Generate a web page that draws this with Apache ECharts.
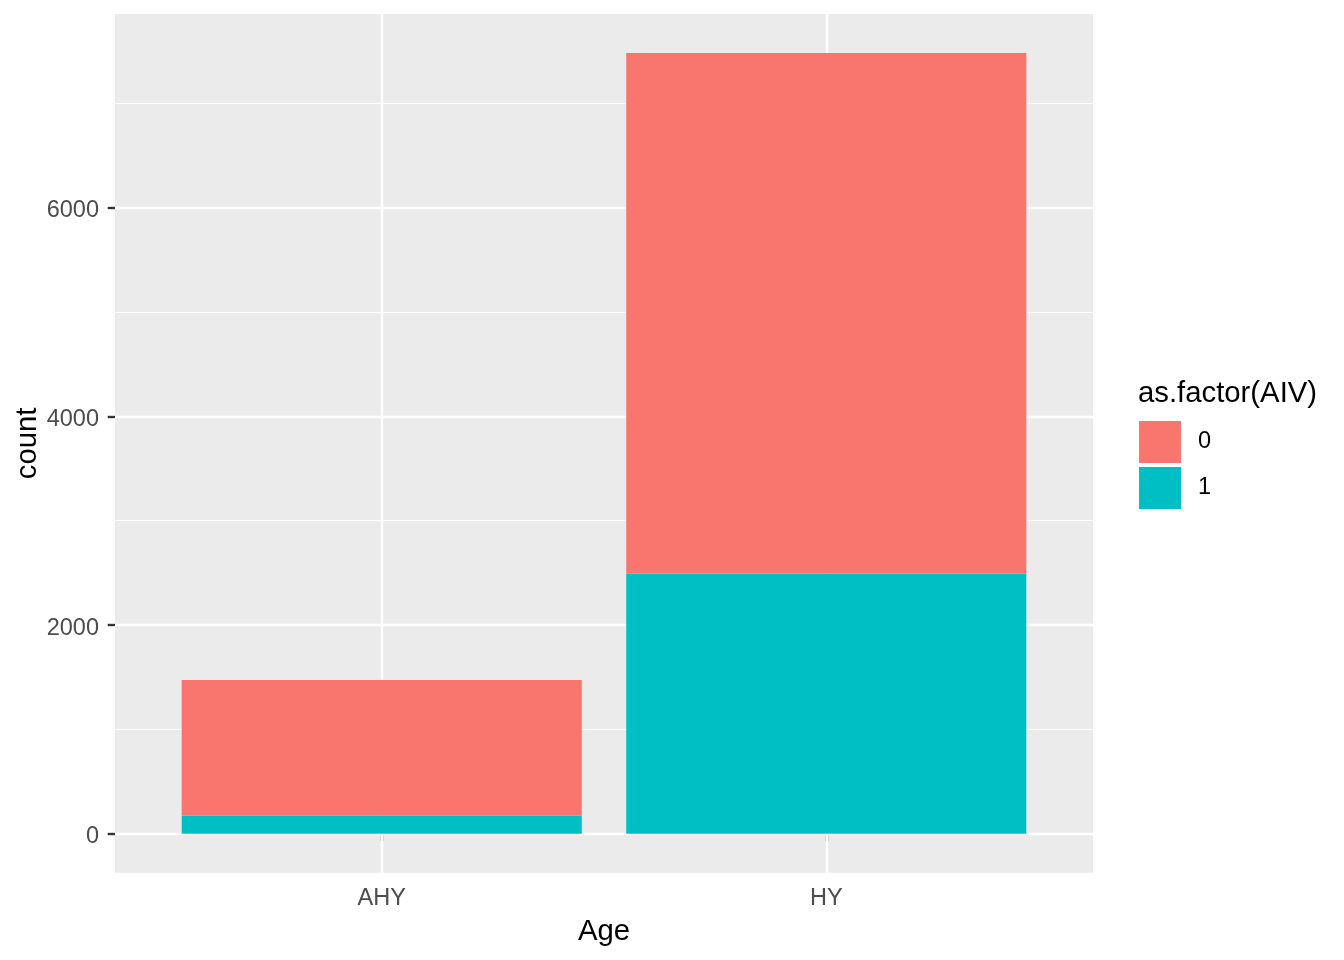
<!DOCTYPE html>
<html>
<head>
<meta charset="utf-8">
<script src="https://cdn.jsdelivr.net/npm/echarts@6/dist/echarts.min.js"></script>
<style>
html,body{margin:0;padding:0;background:#ffffff;}
#chart{width:1344px;height:960px;}
</style>
</head>
<body>
<div id="chart"></div>
<script>
// ---- data ----
const categories = ['AHY', 'HY'];
const positions = [1, 2];            // discrete positions of the categories
const aiv1 = [173, 2492];            // as.factor(AIV) = 1 (bottom of stack)
const aiv0 = [1300, 4991];           // as.factor(AIV) = 0 (top of stack)
const yMajorTicks = [0, 2000, 4000, 6000];
const yMinorTicks = [1000, 3000, 5000, 7000];
const legendNames = ['0', '1'];

const colors = { '0': '#F8766D', '1': '#00BFC4' };
const yMin = -374, yMax = 7857;
const FONT = 'Liberation Sans, Arial, sans-serif';

// panel geometry (ggplot discrete scale: 0.6 expansion on each side)
const panelLeft = 115, panelRight = 1093, panelTop = 14, panelBottom = 872.7;
const unit = (panelRight - panelLeft) / 2.2;
const barsLeft = panelLeft + 0.1 * unit;
const barsRight = panelRight - 0.1 * unit;

const chart = echarts.init(document.getElementById('chart'), null, { renderer: 'canvas' });

const gridLines = [];
yMajorTicks.forEach(v => gridLines.push({ yAxis: v, lineStyle: { width: 2.4 } }));
yMinorTicks.forEach(v => gridLines.push({ yAxis: v, lineStyle: { width: 1.2 } }));
positions.forEach(v => gridLines.push({ xAxis: v, lineStyle: { width: 2.4 } }));

const option = {
  animation: false,
  textStyle: { fontFamily: FONT },
  title: {
    text: 'as.factor(AIV)',
    left: 1138, top: 379, padding: 0,
    textStyle: { fontSize: 29.3, fontWeight: 'normal', color: '#000000', fontFamily: FONT }
  },
  legend: {
    data: legendNames,
    orient: 'vertical',
    left: 1139, top: 421,
    padding: 0,
    itemWidth: 42, itemHeight: 42, itemGap: 4,
    icon: 'rect',
    selectedMode: false,
    textStyle: { fontSize: 23.5, color: '#000000', padding: [5, 0, 0, 12], fontFamily: FONT }
  },
  grid: [
    {
      left: panelLeft, right: 1344 - panelRight, top: panelTop, bottom: 960 - panelBottom,
      show: true, backgroundColor: '#EBEBEB', borderWidth: 0,
      containLabel: false, outerBoundsMode: 'none'
    },
    {
      left: barsLeft, right: 1344 - barsRight, top: panelTop, bottom: 960 - panelBottom,
      show: false, containLabel: false, outerBoundsMode: 'none'
    }
  ],
  xAxis: [
    {
      gridIndex: 0,
      type: 'value',
      min: 0.4, max: 2.6,
      name: 'Age', nameLocation: 'middle', nameGap: 45, nameMoveOverlap: false,
      nameTextStyle: { fontSize: 29.3, color: '#000000' },
      axisLine: { show: false },
      axisTick: { show: true, customValues: positions, length: 7.3, lineStyle: { color: '#333333', width: 2.4 } },
      axisLabel: {
        customValues: positions, margin: 14, fontSize: 23.5, color: '#4D4D4D',
        formatter: v => categories[Math.round(v) - 1]
      },
      splitLine: { show: false }
    },
    {
      gridIndex: 1,
      type: 'category',
      data: categories,
      show: false,
      boundaryGap: true
    }
  ],
  yAxis: [
    {
      gridIndex: 0,
      type: 'value',
      min: yMin, max: yMax,
      name: 'count', nameLocation: 'middle', nameGap: 73, nameRotate: 90, nameMoveOverlap: false,
      nameTextStyle: { fontSize: 29.3, color: '#000000' },
      axisLine: { show: false },
      axisTick: { show: true, customValues: yMajorTicks, length: 7.3, lineStyle: { color: '#333333', width: 2.4 } },
      axisLabel: {
        customValues: yMajorTicks, margin: 16, fontSize: 23.5, color: '#4D4D4D',
        verticalAlign: 'top', lineHeight: 6,
        formatter: v => String(v)
      },
      splitLine: { show: false }
    },
    {
      gridIndex: 1,
      type: 'value',
      min: yMin, max: yMax,
      show: false,
      splitLine: { show: false }
    }
  ],
  series: [
    {
      name: 'grid', type: 'line', data: [], z: 1, silent: true,
      xAxisIndex: 0, yAxisIndex: 0,
      markLine: {
        silent: true, symbol: 'none', z: 1, animation: false,
        label: { show: false },
        lineStyle: { color: '#FFFFFF', type: 'solid' },
        emphasis: { disabled: true },
        data: gridLines
      }
    },
    {
      name: '1', type: 'bar', stack: 'total', barWidth: '90%', z: 3,
      xAxisIndex: 1, yAxisIndex: 1,
      itemStyle: { color: colors['1'] },
      data: aiv1
    },
    {
      name: '0', type: 'bar', stack: 'total', barWidth: '90%', z: 3,
      xAxisIndex: 1, yAxisIndex: 1,
      itemStyle: { color: colors['0'] },
      data: aiv0
    }
  ]
};
chart.setOption(option);
</script>
</body>
</html>
